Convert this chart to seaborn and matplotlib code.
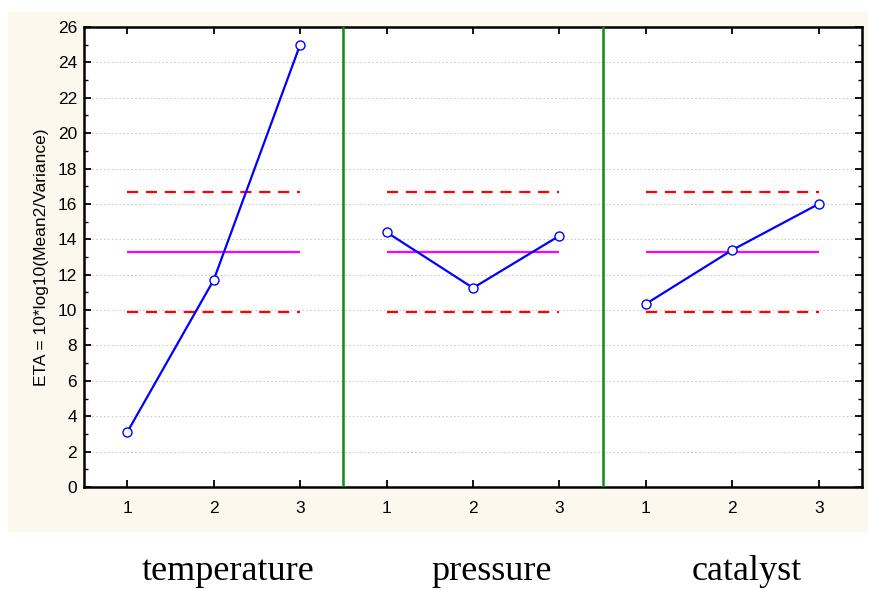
import numpy as np
import pandas as pd
import matplotlib
matplotlib.use('Agg')
import matplotlib.pyplot as plt
import seaborn as sb
from matplotlib.ticker import MultipleLocator
from matplotlib.patches import Rectangle

# data
factors = ['temperature', 'pressure', 'catalyst']
levels = [1, 2, 3]
temperature = [3.1, 11.7, 25.0]
pressure = [14.4, 11.25, 14.2]
catalyst = [10.35, 13.4, 16.0]
grand_mean = 13.28
upper_lim = 16.65
lower_lim = 9.9

series = [temperature, pressure, catalyst]
rows = []
for i, (f, vals) in enumerate(zip(factors, series)):
    for lv, v in zip(levels, vals):
        rows.append({'factor': f, 'level': lv, 'pos': i * 3 + lv, 'eta': v})
frame = pd.DataFrame(rows)

sb.set_style('white', {'text.color': 'black', 'axes.labelcolor': 'black',
                       'xtick.color': 'black', 'ytick.color': 'black'})
plt.rcParams['font.family'] = ['Liberation Sans', 'DejaVu Sans']

fig = plt.figure(figsize=(8.69, 5.90), dpi=100)
fig.add_artist(Rectangle((0.0092, 0.0983), 0.99, 0.8814, transform=fig.transFigure,
                         facecolor='#fcf8ee', edgecolor='none', zorder=-10))
ax = fig.add_axes([0.0967, 0.1746, 0.8953, 0.7797])
ax.set_facecolor('white')

# mean and limit lines for each factor
for i in range(len(factors)):
    x0, x1 = i * 3 + levels[0], i * 3 + levels[-1]
    ax.hlines(grand_mean, x0, x1, colors='#ff00ff', lw=1.6, zorder=2)
    ax.hlines([upper_lim, lower_lim], x0, x1, colors='#ff0000', lw=1.6,
              linestyles=(0, (5, 3.5)), zorder=2)

sb.lineplot(data=frame, x='pos', y='eta', units='factor', estimator=None, ax=ax,
            color='#0000ff', lw=1.6, marker='o', markersize=6.5,
            markerfacecolor='white', markeredgecolor='#0000ff', markeredgewidth=1.0,
            zorder=3, legend=False)

for sep in [3.5, 6.5]:
    ax.axvline(sep, color='#138a13', lw=1.8, zorder=4)

ax.set_xlim(0.5, 9.5)
ax.set_ylim(0, 26)
ax.set_xticks(frame['pos'])
ax.set_xticklabels([str(v) for v in frame['level']])
ax.yaxis.set_major_locator(MultipleLocator(2))
ax.yaxis.set_minor_locator(MultipleLocator(1))
ax.tick_params(which='both', direction='in', top=True, right=True, left=True, bottom=True,
               labelsize=12.5, color='black', labelcolor='black')
ax.tick_params(which='major', length=5, width=1.3)
ax.tick_params(which='minor', length=3, width=1.0)
ax.tick_params(axis='x', pad=10)
ax.tick_params(axis='y', pad=5)
ax.grid(axis='y', which='major', color='#cccccc', linestyle=(0, (1.5, 2)), lw=0.8)
for sp in ax.spines.values():
    sp.set_color('black')
    sp.set_linewidth(1.8)

ax.set_xlabel('')
ax.set_ylabel('ETA = 10*log10(Mean2/Variance)', fontsize=12.5, labelpad=6, color='black')

label_x = [228, 492, 747]
for f, lx in zip(factors, label_x):
    fig.text(lx / 869, 1 - 572 / 590, f, ha='center', va='center', fontsize=26,
             color='black', family=['Liberation Serif', 'DejaVu Serif'])

fig.savefig('out.png', dpi=100)
